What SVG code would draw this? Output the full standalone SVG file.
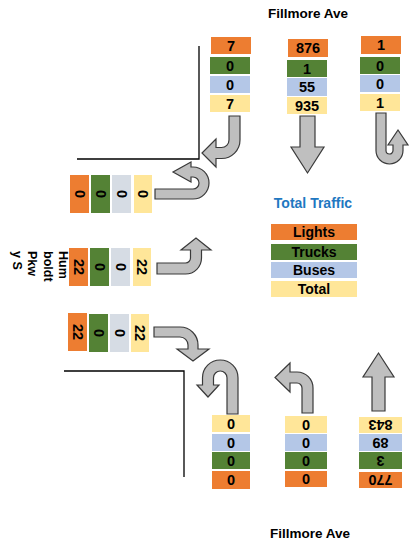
<svg xmlns="http://www.w3.org/2000/svg" width="411" height="546" viewBox="0 0 411 546">
<style>
.o{fill:#ED7D31}.g{fill:#548235}.b{fill:#B4C7E7}.y{fill:#FFE699}.s{fill:#D6DCE4}
text{font-family:"Liberation Sans",Arial,sans-serif;font-weight:bold;fill:#000}
.n{font-size:14.5px;text-anchor:middle;dominant-baseline:central}
.l{font-size:14px;text-anchor:middle;dominant-baseline:central}
.t{font-size:13.5px;text-anchor:middle}
.arrow{fill:#BFBFBF;stroke:#3A3A3A;stroke-width:1.2;stroke-linejoin:miter}
.line{fill:none;stroke:#000;stroke-width:1.3}
</style>
<text class="t" x="308" y="18">Fillmore Ave</text>
<text class="t" x="310" y="538">Fillmore Ave</text>

<g id="streets">
<path class="line" d="M199,46 L199,159 L77,159"/>
<path class="line" d="M64,371 L184,371 L184,477"/>
</g>

<g id="north-left">
<rect class="o" x="211" y="37" width="40" height="17"/><text class="n" x="231" y="45.5">7</text>
<rect class="g" x="210" y="57" width="40" height="17"/><text class="n" x="230" y="65.5">0</text>
<rect class="b" x="210" y="76" width="40" height="17"/><text class="n" x="230" y="84.5">0</text>
<rect class="y" x="210" y="95" width="40" height="17"/><text class="n" x="230" y="103.5">7</text>
</g>
<g id="north-through">
<rect class="o" x="288" y="39" width="40" height="18"/><text class="n" x="308" y="48">876</text>
<rect class="g" x="287" y="60" width="40" height="17"/><text class="n" x="307" y="68.5">1</text>
<rect class="b" x="287" y="78" width="40" height="18"/><text class="n" x="307" y="87">55</text>
<rect class="y" x="287" y="97" width="40" height="17"/><text class="n" x="307" y="105.5">935</text>
</g>
<g id="north-uturn">
<rect class="o" x="361" y="36" width="40" height="18"/><text class="n" x="381" y="45">1</text>
<rect class="g" x="360" y="57" width="40" height="17"/><text class="n" x="380" y="65.5">0</text>
<rect class="b" x="360" y="75" width="40" height="17"/><text class="n" x="380" y="83.5">0</text>
<rect class="y" x="360" y="94" width="40" height="17"/><text class="n" x="380" y="102.5">1</text>
</g>

<g id="west-uturn">
<rect class="o" x="70" y="175" width="19" height="38"/><text class="n" transform="translate(79.5,194) rotate(90)">0</text>
<rect class="g" x="91" y="175" width="19" height="38"/><text class="n" transform="translate(100.5,194) rotate(90)">0</text>
<rect class="s" x="112" y="175" width="19" height="38"/><text class="n" transform="translate(121.5,194) rotate(90)">0</text>
<rect class="y" x="134" y="175" width="18" height="38"/><text class="n" transform="translate(143,194) rotate(90)">0</text>
</g>
<g id="west-left">
<rect class="o" x="69" y="248" width="19" height="38"/><text class="n" transform="translate(78.5,267) rotate(90)">22</text>
<rect class="g" x="90" y="248" width="19" height="38"/><text class="n" transform="translate(99.5,267) rotate(90)">0</text>
<rect class="s" x="111" y="248" width="19" height="38"/><text class="n" transform="translate(120.5,267) rotate(90)">0</text>
<rect class="y" x="133" y="248" width="18" height="38"/><text class="n" transform="translate(142,267) rotate(90)">22</text>
</g>
<g id="west-right">
<rect class="o" x="68" y="313" width="19" height="38"/><text class="n" transform="translate(77.5,332) rotate(90)">22</text>
<rect class="g" x="89" y="314" width="19" height="38"/><text class="n" transform="translate(98.5,333) rotate(90)">0</text>
<rect class="s" x="110" y="314" width="19" height="38"/><text class="n" transform="translate(119.5,333) rotate(90)">0</text>
<rect class="y" x="131" y="314" width="18" height="38"/><text class="n" transform="translate(140,333) rotate(90)">22</text>
</g>
<g id="street-label">
<text font-size="12.5" transform="translate(59,251) rotate(90)"><tspan x="0" y="0">Hum</tspan><tspan x="0" y="15.5">boldt</tspan><tspan x="0" y="31">Pkw</tspan><tspan x="0" y="46.5">y S</tspan></text>
</g>

<g id="south-uturn">
<rect class="y" x="212" y="415" width="38" height="17"/><text class="n" x="231" y="423.5">0</text>
<rect class="b" x="212" y="434" width="38" height="17"/><text class="n" x="231" y="442.5">0</text>
<rect class="g" x="212" y="452" width="38" height="17"/><text class="n" x="231" y="460.5">0</text>
<rect class="o" x="212" y="471" width="38" height="18"/><text class="n" x="231" y="480">0</text>
</g>
<g id="south-left">
<rect class="y" x="285" y="416" width="42" height="17"/><text class="n" x="306" y="424.5">0</text>
<rect class="b" x="285" y="434" width="42" height="17"/><text class="n" x="306" y="442.5">0</text>
<rect class="g" x="285" y="452" width="42" height="17"/><text class="n" x="306" y="460.5">0</text>
<rect class="o" x="285" y="471" width="42" height="16"/><text class="n" x="306" y="479">0</text>
</g>
<g id="south-through">
<rect class="y" x="359" y="417" width="43" height="16"/><text class="n" transform="translate(380.5,425) rotate(180)">843</text>
<rect class="b" x="359" y="434" width="43" height="17"/><text class="n" transform="translate(380.5,442.5) rotate(180)">89</text>
<rect class="g" x="359" y="452" width="43" height="17"/><text class="n" transform="translate(380.5,460.5) rotate(180)">3</text>
<rect class="o" x="359" y="472" width="43" height="16"/><text class="n" transform="translate(380.5,480) rotate(180)">770</text>
</g>

<g id="legend">
<text x="313" y="208" font-size="14" text-anchor="middle" style="fill:#1F78C1">Total Traffic</text>
<rect class="o" x="271" y="224" width="86" height="16"/><text class="l" x="314" y="232">Lights</text>
<rect class="g" x="271" y="244" width="86" height="16"/><text class="l" x="314" y="252">Trucks</text>
<rect class="b" x="271" y="262" width="86" height="16"/><text class="l" x="314" y="270">Buses</text>
<rect class="y" x="271" y="281" width="86" height="16"/><text class="l" x="314" y="289">Total</text>
</g>

<g id="connectors">
<path class="arrow" d="M229,116 L240,116 L240,140 A18.5,18.5 0 0 1 221.5,158.5 L216,158.5 L216,167 L202,153 L216,139 L216,147.5 L221.5,147.5 A7.5,7.5 0 0 0 229,140 Z"/>
<path class="arrow" d="M300,116 L315,116 L315,147 L324,147 L307.5,173 L291,147 L300,147 Z"/>
<path class="arrow" d="M376,113 L386,113 L386,150.5 A3.5,3.5 0 0 0 393,150.5 L393,145 L388,145 L398,130 L408,145 L403,145 L403,150.5 A13.5,13.5 0 0 1 376,150.5 Z"/>
<path class="arrow" d="M155,189 L193,189 A6,6 0 0 0 193,177 L191,177 L191,182 L173,172 L191,162 L191,167 L193,167 A16,16 0 0 1 193,199 L155,199 Z"/>
<path class="arrow" d="M157,263 L185.5,263 A5,5 0 0 0 190.5,258 L190.5,250 L181,250 L196,238 L211,250 L201.5,250 L201.5,258 A16,16 0 0 1 185.5,274 L157,274 Z"/>
<path class="arrow" d="M154,327 L180,327 A18,18 0 0 1 198,345 L198,349 L209,349 L193,361 L177,349 L188,349 L188,345 A8,8 0 0 0 180,337 L154,337 Z"/>
<path class="arrow" d="M238,414 L227,414 L227,377.75 A6.75,6.75 0 0 0 213.5,377.75 L213.5,385 L219,385 L208,397 L197,385 L202.5,385 L202.5,377.75 A17.75,17.75 0 0 1 238,377.75 Z"/>
<path class="arrow" d="M313,413 L302,413 L302,388 A5,5 0 0 0 297,383 L290,383 L290,392 L275,377.5 L290,363 L290,372 L297,372 A16,16 0 0 1 313,388 Z"/>
<path class="arrow" d="M372,411 L385,411 L385,377 L394,377 L378.5,353 L363,377 L372,377 Z"/>
</g>
</svg>
